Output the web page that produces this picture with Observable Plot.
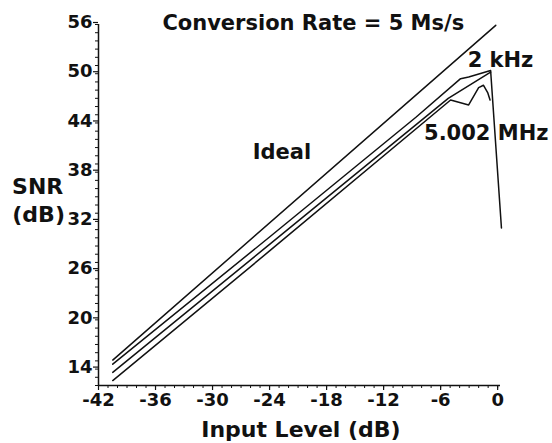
<!DOCTYPE html>
<html>
<head>
<meta charset="utf-8">
<script src="https://cdn.jsdelivr.net/npm/d3@7"></script>
<script src="https://cdn.jsdelivr.net/npm/@observablehq/plot@0.6"></script>
<style>
  html, body { margin: 0; padding: 0; background: #fff; }
</style>
</head>
<body>
<div id="chart"></div>
<script>
// Tick labels
const xTicks = [-42, -36, -30, -24, -18, -12, -6, 0];
const yTicks = [56, 50, 44, 38, 32, 26, 20, 14];

// Series (input level dB -> SNR dB)
const idealIn  = [-40.5, -0.2];
const idealSnr = [15.1, 55.9];

const in2k  = [-40.5, -24, -8.6, -3.9, -3.05, -0.74, 0.4];
const snr2k = [14.6, 30.1, 44.7, 49.4, 49.6, 50.4, 31.2];

const inMid  = [-40.5, -24, -5.2, -0.74];
const snrMid = [13.6, 29.2, 47.0, 50.2];

const in5M  = [-40.5, -24, -4.95, -3.05, -2.0, -1.5, -1.05, -0.8];
const snr5M = [12.6, 28.4, 46.8, 46.2, 48.3, 48.6, 47.7, 46.8];

// Annotations
const labelText = ["Conversion Rate = 5 Ms/s", "Ideal", "2 kHz", "5.002 MHz"];
const labelX    = [-19.4, -22.7, 0.3, -1.2];
const labelY    = [56.2, 40.4, 51.6, 42.7];

const toRows = (xs, ys, name) => xs.map((x, i) => ({x, y: ys[i], s: name}));
const series = [
  ...toRows(idealIn, idealSnr, "ideal"),
  ...toRows(in2k, snr2k, "2k"),
  ...toRows(inMid, snrMid, "mid"),
  ...toRows(in5M, snr5M, "5M")
];
const labels = labelText.map((t, i) => ({t, x: labelX[i], y: labelY[i]}));

const font = "DejaVu Sans";

const chart = Plot.plot({
  width: 552,
  height: 443,
  marginLeft: 98,
  marginRight: 52,
  marginTop: 24,
  marginBottom: 58,
  style: {fontFamily: font, fontWeight: "bold", color: "#111", background: "#fff"},
  x: {domain: [-42, 0.3]},
  y: {domain: [12, 56]},
  marks: [
    // minor ticks
    Plot.axisX({ticks: d3.range(-42, 1, 1), tickSize: 3, text: null, label: null, strokeWidth: 1}),
    Plot.axisY({ticks: d3.range(12, 57, 1), tickSize: 3, text: null, label: null, strokeWidth: 1}),
    // major ticks + labels
    Plot.axisX({ticks: xTicks, tickSize: 5, tickPadding: 3, tickFormat: d => String(d), label: null,
      fontSize: 18, fontWeight: "bold", strokeWidth: 1.2}),
    Plot.axisY({ticks: yTicks, tickSize: 5, tickPadding: 1, tickFormat: d => String(d), label: null,
      fontSize: 18, fontWeight: "bold", strokeWidth: 1.2, dy: -2}),
    Plot.ruleX([-42], {y1: 12, y2: 56, strokeWidth: 1.5}),
    Plot.ruleY([12], {x1: -42, x2: 0.3, strokeWidth: 1.5}),
    // curves
    Plot.line(series, {x: "x", y: "y", z: "s", stroke: "#111", strokeWidth: 1.5}),
    // annotations
    Plot.text(labels, {x: "x", y: "y", text: "t", fontSize: 21, fontWeight: "bold", fill: "#111", textAnchor: "middle", lineAnchor: "middle"}),
    Plot.text(["SNR"], {x: -48.4, y: 36.2, text: d => d, fontSize: 22, fontWeight: "bold", fill: "#111"}),
    Plot.text(["(dB)"], {x: -48.3, y: 32.8, text: d => d, fontSize: 22, fontWeight: "bold", fill: "#111"}),
    Plot.text(["Input Level (dB)"], {x: -20.7, y: 6.6, text: d => d, fontSize: 22, fontWeight: "bold", fill: "#111"})
  ]
});
chart.style.overflow = "visible";
document.getElementById("chart").appendChild(chart);
</script>
</body>
</html>
